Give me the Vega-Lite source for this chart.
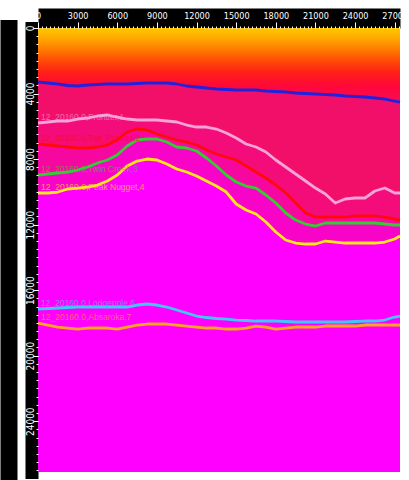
{
  "$schema": "https://vega.github.io/schema/vega-lite/v6.json",
  "width": 362,
  "height": 444,
  "autosize": {"type": "none"},
  "padding": {"left": 38, "top": 28, "right": 9, "bottom": 8},
  "background": "white",
  "config": {"view": {"fill": "#ff00ff", "stroke": null}},
  "datasets": {
    "horizons": [
      {"x": 0, "blue": 3296, "pink": 5799, "red": 7081, "green": 8973, "yellow": 10072, "cyan": 17152, "orange": 18007},
      {"x": 750, "blue": 3357, "pink": 5738, "red": 7142, "green": 8912, "yellow": 10072, "cyan": 17122, "orange": 18129},
      {"x": 1500, "blue": 3418, "pink": 5677, "red": 7203, "green": 8851, "yellow": 10011, "cyan": 17091, "orange": 18251},
      {"x": 2250, "blue": 3510, "pink": 5677, "red": 7264, "green": 8790, "yellow": 9827, "cyan": 17061, "orange": 18312},
      {"x": 3000, "blue": 3540, "pink": 5555, "red": 7325, "green": 8668, "yellow": 9767, "cyan": 17030, "orange": 18373},
      {"x": 3750, "blue": 3479, "pink": 5494, "red": 7325, "green": 8485, "yellow": 9705, "cyan": 17030, "orange": 18312},
      {"x": 4500, "blue": 3449, "pink": 5371, "red": 7264, "green": 8241, "yellow": 9583, "cyan": 17030, "orange": 18312},
      {"x": 5250, "blue": 3418, "pink": 5310, "red": 7142, "green": 8057, "yellow": 9339, "cyan": 17030, "orange": 18312},
      {"x": 6000, "blue": 3418, "pink": 5433, "red": 6836, "green": 7752, "yellow": 8973, "cyan": 17030, "orange": 18373},
      {"x": 6750, "blue": 3418, "pink": 5555, "red": 6348, "green": 7203, "yellow": 8424, "cyan": 17030, "orange": 18251},
      {"x": 7500, "blue": 3388, "pink": 5616, "red": 6165, "green": 6836, "yellow": 8118, "cyan": 16908, "orange": 18129},
      {"x": 8250, "blue": 3357, "pink": 5616, "red": 6226, "green": 6775, "yellow": 7996, "cyan": 16847, "orange": 18068},
      {"x": 9000, "blue": 3357, "pink": 5616, "red": 6470, "green": 6775, "yellow": 8057, "cyan": 16908, "orange": 18068},
      {"x": 9750, "blue": 3357, "pink": 5677, "red": 6653, "green": 6959, "yellow": 8301, "cyan": 17030, "orange": 18068},
      {"x": 10500, "blue": 3418, "pink": 5738, "red": 6836, "green": 7264, "yellow": 8607, "cyan": 17213, "orange": 18129},
      {"x": 11250, "blue": 3540, "pink": 5921, "red": 6959, "green": 7325, "yellow": 8790, "cyan": 17396, "orange": 18190},
      {"x": 12000, "blue": 3601, "pink": 6043, "red": 7142, "green": 7508, "yellow": 9034, "cyan": 17580, "orange": 18251},
      {"x": 12750, "blue": 3662, "pink": 6043, "red": 7447, "green": 7935, "yellow": 9339, "cyan": 17671, "orange": 18312},
      {"x": 13500, "blue": 3723, "pink": 6165, "red": 7691, "green": 8424, "yellow": 9644, "cyan": 17732, "orange": 18312},
      {"x": 14250, "blue": 3754, "pink": 6409, "red": 7874, "green": 8973, "yellow": 10011, "cyan": 17763, "orange": 18373},
      {"x": 15000, "blue": 3784, "pink": 6714, "red": 8057, "green": 9400, "yellow": 10743, "cyan": 17824, "orange": 18373},
      {"x": 15750, "blue": 3784, "pink": 7081, "red": 8424, "green": 9644, "yellow": 11109, "cyan": 17854, "orange": 18312},
      {"x": 16500, "blue": 3784, "pink": 7264, "red": 8790, "green": 9767, "yellow": 11353, "cyan": 17885, "orange": 18190},
      {"x": 17250, "blue": 3846, "pink": 7569, "red": 9156, "green": 10194, "yellow": 11842, "cyan": 17885, "orange": 18251},
      {"x": 18000, "blue": 3876, "pink": 8057, "red": 9583, "green": 10682, "yellow": 12452, "cyan": 17885, "orange": 18373},
      {"x": 18750, "blue": 3907, "pink": 8485, "red": 10072, "green": 11292, "yellow": 12940, "cyan": 17915, "orange": 18312},
      {"x": 19500, "blue": 3968, "pink": 8912, "red": 10682, "green": 11720, "yellow": 13124, "cyan": 17946, "orange": 18251},
      {"x": 20250, "blue": 3998, "pink": 9339, "red": 11292, "green": 11964, "yellow": 13185, "cyan": 17946, "orange": 18251},
      {"x": 21000, "blue": 4029, "pink": 9767, "red": 11537, "green": 12086, "yellow": 13185, "cyan": 17946, "orange": 18251},
      {"x": 21750, "blue": 4059, "pink": 10133, "red": 11537, "green": 11903, "yellow": 13002, "cyan": 17946, "orange": 18190},
      {"x": 22500, "blue": 4090, "pink": 10682, "red": 11537, "green": 11903, "yellow": 13063, "cyan": 17946, "orange": 18190},
      {"x": 23250, "blue": 4151, "pink": 10438, "red": 11537, "green": 11903, "yellow": 13124, "cyan": 17946, "orange": 18190},
      {"x": 24000, "blue": 4181, "pink": 10377, "red": 11476, "green": 11903, "yellow": 13124, "cyan": 17915, "orange": 18190},
      {"x": 24750, "blue": 4212, "pink": 10377, "red": 11476, "green": 11903, "yellow": 13124, "cyan": 17885, "orange": 18129},
      {"x": 25500, "blue": 4273, "pink": 9950, "red": 11476, "green": 11903, "yellow": 13124, "cyan": 17885, "orange": 18129},
      {"x": 26250, "blue": 4334, "pink": 9767, "red": 11537, "green": 11964, "yellow": 13063, "cyan": 17824, "orange": 18129},
      {"x": 27000, "blue": 4456, "pink": 10072, "red": 11659, "green": 12025, "yellow": 12879, "cyan": 17641, "orange": 18129},
      {"x": 27400, "blue": 4517, "pink": 10072, "red": 11720, "green": 12025, "yellow": 12696, "cyan": 17580, "orange": 18129}
    ],
    "labels": [
      {"key": "pink", "label": "12_20160.0,Frontier,1"},
      {"key": "red", "label": "12_20160.0,Top_Preuss,2"},
      {"key": "green", "label": "12_20160.0,Twin Creek,3"},
      {"key": "yellow", "label": "12_20160.0,Peak Nugget,4"},
      {"key": "cyan", "label": "12_20160.0,Lodgepole,6"},
      {"key": "orange", "label": "12_20160.0,Absaroka,7"}
    ]
  },
  "data": {"name": "horizons"},
  "resolve": {"axis": {"x": "independent", "y": "independent"}},
  "layer": [
    {
      "mark": {
        "type": "area",
        "color": {
          "gradient": "linear", "x1": 0, "y1": 0, "x2": 0, "y2": 1,
          "stops": [
            {"offset": 0, "color": "#ffc800"},
            {"offset": 0.15, "color": "#ffa600"},
            {"offset": 0.3, "color": "#ff7800"},
            {"offset": 0.45, "color": "#ff4808"},
            {"offset": 0.6, "color": "#ff2018"},
            {"offset": 0.78, "color": "#ff0838"},
            {"offset": 1, "color": "#f80a58"}
          ]
        }
      },
      "encoding": {
        "x": {"field": "x", "type": "quantitative", "scale": {"domain": [0, 27400], "nice": false, "zero": false},
          "axis": {"orient": "top", "domain": true, "domainColor": "black", "domainWidth": 20, "offset": 10, "ticks": false, "labels": false, "grid": false, "title": null, "zindex": 0}},
        "y": {"field": "blue", "type": "quantitative", "scale": {"domain": [0, 27100], "nice": false, "zero": false, "reverse": true},
          "axis": {"orient": "left", "domain": true, "domainColor": "black", "domainWidth": 13, "domainCap": "square", "offset": 6.5, "ticks": false, "labels": false, "grid": false, "title": null, "zindex": 0}},
        "y2": {"datum": 0}
      }
    },
    {
      "mark": {"type": "area", "color": "#f20f6a"},
      "encoding": {
        "x": {"field": "x", "type": "quantitative",
          "axis": {"orient": "top", "domain": false, "ticks": true, "tickColor": "white", "tickSize": 2, "tickWidth": 1, "labels": false, "grid": false, "title": null, "zindex": 1,
            "values": [0,300,600,900,1200,1500,1800,2100,2400,2700,3000,3300,3600,3900,4200,4500,4800,5100,5400,5700,6000,6300,6600,6900,7200,7500,7800,8100,8400,8700,9000,9300,9600,9900,10200,10500,10800,11100,11400,11700,12000,12300,12600,12900,13200,13500,13800,14100,14400,14700,15000,15300,15600,15900,16200,16500,16800,17100,17400,17700,18000,18300,18600,18900,19200,19500,19800,20100,20400,20700,21000,21300,21600,21900,22200,22500,22800,23100,23400,23700,24000,24300,24600,24900,25200,25500,25800,26100,26400,26700,27000,27300]}},
        "y": {"field": "blue", "type": "quantitative",
          "axis": {"orient": "left", "domain": false, "ticks": true, "tickColor": "white", "tickSize": 2, "tickWidth": 1, "labels": false, "grid": false, "title": null, "zindex": 1,
            "values": [0,500,1000,1500,2000,2500,3000,3500,4000,4500,5000,5500,6000,6500,7000,7500,8000,8500,9000,9500,10000,10500,11000,11500,12000,12500,13000,13500,14000,14500,15000,15500,16000,16500,17000,17500,18000,18500,19000,19500,20000,20500,21000,21500,22000,22500,23000,23500,24000,24500,25000,25500,26000,26500,27000]}},
        "y2": {"field": "pink"}
      }
    },
    {
      "mark": {"type": "area", "color": "#f40c7a"},
      "encoding": {
        "x": {"field": "x", "type": "quantitative",
          "axis": {"orient": "top", "domain": false, "ticks": true, "tickColor": "white", "tickSize": 6, "tickWidth": 1, "grid": false, "title": null, "zindex": 1,
            "values": [0,3000,6000,9000,12000,15000,18000,21000,24000,27000], "format": "d",
            "labelColor": "white", "labelFont": "Liberation Sans Narrow, DejaVu Sans Condensed, sans-serif", "labelFontSize": 9, "labelPadding": 2, "labelFlush": false, "labelOverlap": false}},
        "y": {"field": "pink", "type": "quantitative",
          "axis": {"orient": "left", "domain": false, "ticks": true, "tickColor": "white", "tickSize": 5, "tickWidth": 1, "grid": false, "title": null, "zindex": 1,
            "values": [0,4000,8000,12000,16000,20000,24000], "format": "d",
            "labelColor": "white", "labelFont": "Liberation Sans Narrow, DejaVu Sans Condensed, sans-serif", "labelFontSize": 10, "labelAngle": 270, "labelAlign": "center", "labelBaseline": "middle", "labelPadding": 3, "labelFlush": false, "labelOverlap": false}},
        "y2": {"field": "red"}
      }
    },
    {
      "mark": {"type": "area", "color": "#f608a0"},
      "encoding": {
        "x": {"field": "x", "type": "quantitative", "axis": null},
        "y": {"field": "red", "type": "quantitative",
          "axis": {"orient": "left", "domain": true, "domainColor": "black", "domainWidth": 17, "domainCap": "square", "offset": 29.5, "ticks": false, "labels": false, "grid": false, "title": null, "zindex": 0}},
        "y2": {"field": "green"}
      }
    },
    {
      "mark": {"type": "area", "color": "#f804c8"},
      "encoding": {
        "x": {"field": "x", "type": "quantitative", "axis": null},
        "y": {"field": "green", "type": "quantitative", "axis": null},
        "y2": {"field": "yellow"}
      }
    },
    {
      "mark": {"type": "area", "color": "#ff00ff"},
      "encoding": {
        "x": {"field": "x", "type": "quantitative", "axis": null},
        "y": {"field": "yellow", "type": "quantitative", "axis": null},
        "y2": {"datum": 27100}
      }
    },
    {
      "transform": [{"fold": ["blue", "pink", "red", "green", "yellow", "cyan", "orange"], "as": ["key", "depth"]}],
      "mark": {"type": "line", "strokeWidth": 2.8, "strokeJoin": "round", "interpolate": "linear"},
      "encoding": {
        "x": {"field": "x", "type": "quantitative", "axis": null},
        "y": {"field": "depth", "type": "quantitative", "axis": null},
        "color": {"field": "key", "type": "nominal", "legend": null,
          "scale": {"domain": ["blue", "pink", "red", "green", "yellow", "cyan", "orange"],
                    "range": ["#2222dd", "#f4a4d8", "#ff0a0a", "#33cc33", "#ffe81a", "#3ec8f8", "#ffa41e"]}}
      }
    },
    {
      "transform": [
        {"filter": "datum.x == 0"},
        {"fold": ["blue", "pink", "red", "green", "yellow", "cyan", "orange"], "as": ["key", "depth"]},
        {"lookup": "key", "from": {"data": {"name": "labels"}, "key": "key", "fields": ["label"]}},
        {"filter": "isValid(datum.label)"}
      ],
      "mark": {"type": "text", "align": "left", "baseline": "middle", "dx": 3, "dy": -6, "font": "Liberation Sans", "fontSize": 8.5, "opacity": 0.6},
      "encoding": {
        "x": {"field": "x", "type": "quantitative", "axis": null},
        "y": {"field": "depth", "type": "quantitative", "axis": null},
        "text": {"field": "label"},
        "color": {"field": "key", "type": "nominal", "legend": null}
      }
    }
  ]
}
